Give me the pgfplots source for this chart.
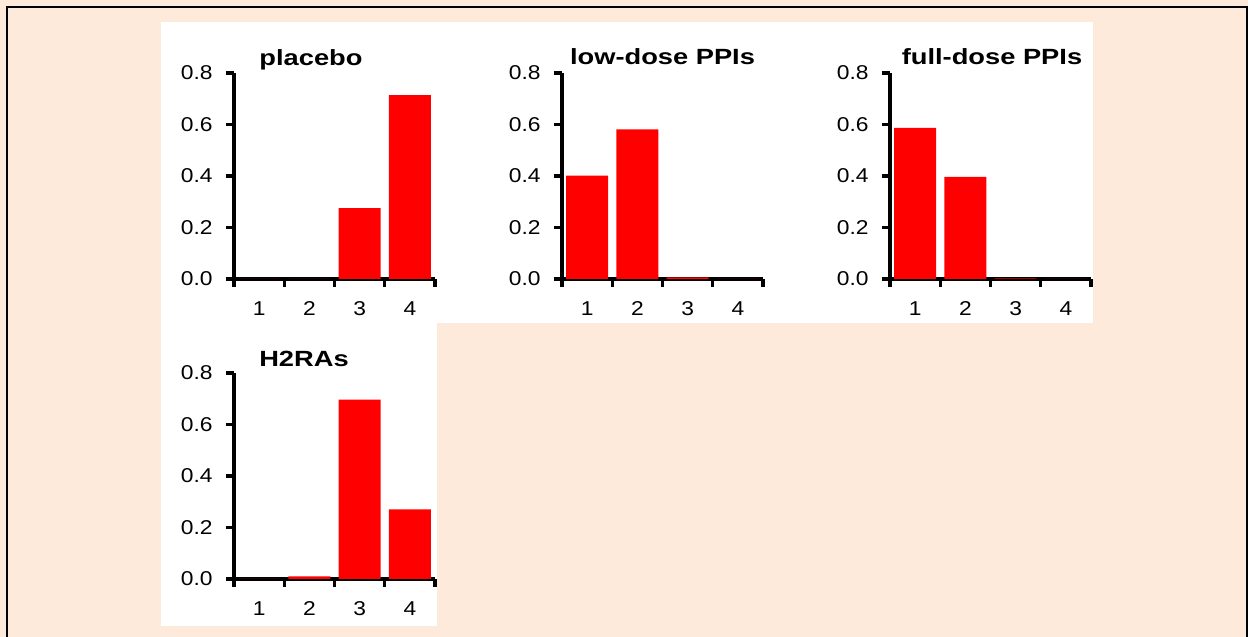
\documentclass[border=0pt]{standalone}
\usepackage{fontspec}
\setmainfont{Liberation Sans}
\usepackage{pgfplots}
\pgfplotsset{compat=1.18}
\definecolor{panelbg}{HTML}{FDEADB}
\definecolor{barred}{HTML}{FF0000}

\pgfplotsset{
  rankbars/.style={
    scale only axis, width=100.5pt, height=103pt, anchor=south west,
    xmin=0.5, xmax=4.5, ymin=0, ymax=0.8,
    axis x line=bottom, axis y line=left,
    x axis line style={-, black, line width=1.7pt},
    y axis line style={-, black, line width=1.7pt},
    ytick={0,0.2,0.4,0.6,0.8}, yticklabels={0.0,0.2,0.4,0.6,0.8},
    xtick={0.5,1.5,2.5,3.5,4.5}, xticklabels={1,2,3,4}, x tick label as interval,
    tick align=outside, major tick length=4pt,
    xtick style={black, line width=1.7pt},
    ytick style={black, line width=1.7pt},
    ybar, bar width=0.84,
    yticklabel style={font=\fontsize{10}{12}\selectfont, inner sep=0pt, anchor=east, xshift=-6.5pt, xscale=1.14},
    xticklabel style={font=\fontsize{10}{12}\selectfont, inner sep=0pt, anchor=north, yshift=-7pt, xscale=1.14},
    clip=false,
  },
}
\tikzset{ttl/.style={anchor=base, font=\bfseries\fontsize{11}{13}\selectfont, xscale=1.24}}

\begin{document}
\begin{tikzpicture}[x=0.5pt,y=0.5pt]
\useasboundingbox (0,0) rectangle (1248,637);
\clip (0,0) rectangle (1248,637);
\fill[panelbg] (0,0) rectangle (1248,637);
\draw[line width=1pt] (7,-5) -- (7,630) -- (1246.5,630) -- (1246.5,-5);
\fill[white] (161,615) rectangle (1093,314);
\fill[white] (161,314) rectangle (437,11);
\coordinate (o1) at (234,358);
\coordinate (o2) at (562,358);
\coordinate (o3) at (890,358);
\coordinate (o4) at (234,58);

% placebo
\begin{axis}[rankbars, at={(o1)}]
\addplot[fill=barred, draw=none] coordinates {(1,0)(2,0)(3,0.275)(4,0.714)};
\end{axis}
% low-dose PPIs
\begin{axis}[rankbars, at={(o2)}]
\addplot[fill=barred, draw=none] coordinates {(1,0.401)(2,0.581)(3,0.006)(4,0)};
\end{axis}
% full-dose PPIs
\begin{axis}[rankbars, at={(o3)}]
\addplot[fill=barred, draw=none] coordinates {(1,0.587)(2,0.397)(3,0.002)(4,0)};
\end{axis}
% H2RAs
\begin{axis}[rankbars, at={(o4)}]
\addplot[fill=barred, draw=none] coordinates {(1,0)(2,0.01)(3,0.697)(4,0.27)};
\end{axis}

\node[ttl] at (311,571) {placebo};
\node[ttl] at (662.5,572) {low-dose PPIs};
\node[ttl] at (992,572) {full-dose PPIs};
\node[ttl] at (304,270) {H2RAs};
\end{tikzpicture}
\end{document}
